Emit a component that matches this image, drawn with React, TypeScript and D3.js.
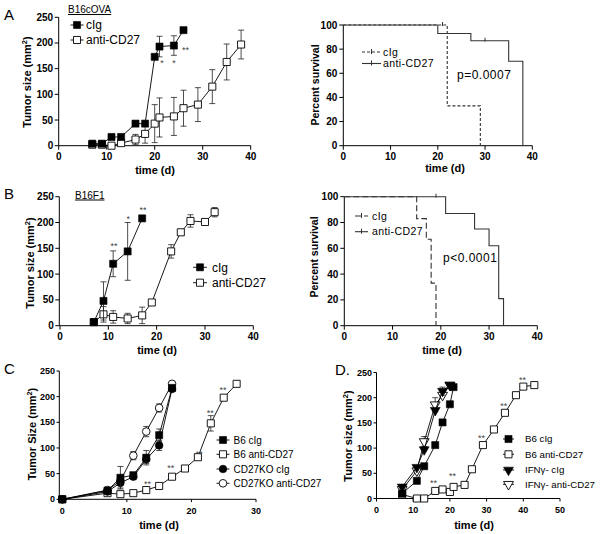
import React from "react";
import * as d3 from "d3";

const FONT = "'Liberation Sans', Arial, Helvetica, sans-serif";

// ---------- Panel A (B16cOVA) tumor growth ----------
const aDaysClg = [7, 9, 11, 13, 16, 18, 20, 21, 24, 26];
const aClg = [4, 4, 17, 17, 43, 43, 173, 193, 195, 225];
const aClgErr = [0, 0, 0, 0, 0, 0, 0, 20, 19, 0];
const aDaysAnti = [7, 9, 11, 13, 16, 18, 20, 21, 24, 26, 29, 32, 35, 38];
const aAnti = [2, 2, 0, 5, 12, 23, 43, 55, 57, 73, 80, 115, 163, 197];
const aAntiErr = [0, 0, 0, 3, 10, 18, 37, 38, 37, 35, 33, 33, 35, 28];
const aStarX = [21.5, 24, 26.4];
const aStarY = [164, 164, 190];
const aStarLabel = ["*", "*", "**"];

// ---------- Panel A survival ----------
const aSurvClgT = [0, 22, 29];
const aSurvClgV = [100, 33, 0];
const aSurvClgCensT = [21];
const aSurvClgCensV = [100];
const aSurvAntiT = [0, 20, 27, 35, 38];
const aSurvAntiV = [100, 93, 87, 70, 0];
const aSurvAntiCensT = [30];
const aSurvAntiCensV = [87];

// ---------- Panel B (B16F1) tumor growth ----------
const bDaysClg = [7, 9, 11, 14, 17];
const bClg = [7, 48, 120, 144, 208];
const bClgErr = [0, 37, 25, 56, 0];
const bDaysAnti = [7, 9, 11, 14, 17, 19, 23, 25, 27, 30, 32];
const bAnti = [7, 22, 17, 14, 20, 45, 144, 181, 203, 201, 220];
const bAntiErr = [0, 15, 12, 10, 16, 5, 13, 5, 12, 5, 9];
const bStarX = [11.2, 14.1, 17.2];
const bStarY = [158, 210, 229];
const bStarLabel = ["**", "*", "**"];

// ---------- Panel B survival ----------
const bSurvClgT = [0, 15, 17, 18, 19];
const bSurvClgV = [100, 83, 67, 33, 0];
const bSurvAntiT = [0, 21, 27, 30, 32, 33];
const bSurvAntiV = [100, 87, 75, 62, 21, 0];
const bSurvAntiCensT = [19];
const bSurvAntiCensV = [100];

// ---------- Panel C ----------
const cDaysClg = [0, 7, 9, 11, 13, 15, 17];
const cB6Clg = [0, 17, 42, 47, 81, 125, 217];
const cB6ClgErr = [0, 4, 22, 5, 14, 12, 5];
const cDaysB6Anti = [0, 7, 9, 11, 13, 15, 17, 19, 21, 23, 25, 27];
const cB6Anti = [0, 12, 10, 12, 18, 26, 44, 60, 82, 148, 198, 225];
const cB6AntiErr = [0, 2, 3, 3, 3, 3, 4, 4, 5, 15, 5, 0];
const cKoClg = [0, 15, 32, 44, 78, 105, 215];
const cKoClgErr = [0, 3, 10, 5, 8, 10, 5];
const cKoAnti = [0, 18, 36, 85, 132, 178, 225];
const cKoAntiErr = [0, 3, 8, 8, 10, 8, 3];
const cStarX = [13.2, 16.8, 21.2, 22.9, 24.9];
const cStarY = [34, 65, 92, 173, 217];

// ---------- Panel D ----------
const dDaysB6Clg = [7, 11, 13, 16, 18, 20, 21];
const dB6Clg = [10, 35, 64, 106, 151, 187, 221];
const dB6ClgErr = [0, 0, 0, 0, 0, 0, 0];
const dDaysB6Anti = [7, 11, 13, 16, 18, 20, 21, 24, 26, 29, 32, 35, 38, 40, 43];
const dB6Anti = [8, 0, 0, 15, 18, 13, 23, 27, 58, 106, 137, 170, 205, 222, 225];
const dB6AntiErr = [0, 0, 0, 0, 0, 0, 0, 0, 0, 0, 0, 0, 0, 0, 0];
const dDaysIfn = [7, 11, 13, 16, 18, 20];
const dIfnClg = [23, 62, 97, 175, 213, 225];
const dIfnClgErr = [0, 0, 0, 0, 8, 0];
const dIfnAnti = [18, 55, 113, 186, 205, 225];
const dIfnAntiErr = [0, 0, 10, 14, 0, 0];
const dStarX = [15.5, 20.7, 28.6, 34.7, 39.8];
const dStarY = [34, 48, 124, 188, 240];

type MarkerKind = "sq" | "osq" | "ci" | "oci" | "tri" | "otri";

interface Series {
  days: number[];
  vals: number[];
  err: number[];
  marker: MarkerKind;
}

interface LegendItem {
  label: string;
  marker: MarkerKind;
}

function symbolPath(kind: MarkerKind): string {
  if (kind === "sq" || kind === "osq") return d3.symbol().type(d3.symbolSquare).size(50)() || "";
  if (kind === "ci" || kind === "oci") return d3.symbol().type(d3.symbolCircle).size(46)() || "";
  return d3.symbol().type(d3.symbolTriangle).size(42)() || "";
}

function Marker({ kind, cx, cy }: { kind: MarkerKind; cx: number; cy: number }) {
  const filled = kind === "sq" || kind === "ci" || kind === "tri";
  const rot = kind === "tri" || kind === "otri" ? " rotate(180)" : "";
  return (
    <path
      d={symbolPath(kind)}
      transform={`translate(${cx},${cy})${rot}`}
      fill={filled ? "#000" : "#fff"}
      stroke="#000"
      strokeWidth={filled ? 0.6 : 0.9}
    />
  );
}

interface TumorCfg {
  xPx: [number, number];
  yPx: [number, number];
  xMax: number;
  axisX: number;
  tickFont: number;
  tickLen: number;
  series: Series[];
  legend: LegendItem[];
  legX: number;
  legYs: number[];
  legHalf: number;
  legTextX: number;
  legFont: number;
  starX: number[];
  starY: number[];
  starLabel: string[];
  yTitle: string;
  yTitleX: number;
  yTitleY: number;
  xTitleX: number;
  xTitleY: number;
}

function TumorPanel({ c }: { c: TumorCfg }) {
  const x = d3.scaleLinear().domain([0, c.xMax]).range(c.xPx);
  const y = d3.scaleLinear().domain([0, 250]).range(c.yPx);
  const xTicks = d3.range(0, c.xMax + 1, 10);
  const yTicks = d3.range(0, 251, 50);
  const line = d3
    .line<[number, number]>()
    .x((d) => x(d[0]))
    .y((d) => y(d[1]));
  return (
    <g fontFamily={FONT}>
      {/* axes */}
      <line x1={c.axisX} x2={c.axisX} y1={y(0)} y2={y(250)} stroke="#000" strokeWidth={1} />
      <line x1={c.axisX} x2={x(c.xMax)} y1={y(0)} y2={y(0)} stroke="#000" strokeWidth={1} />
      {yTicks.map((t) => (
        <g key={"y" + t}>
          <line x1={c.axisX - c.tickLen} x2={c.axisX} y1={y(t)} y2={y(t)} stroke="#000" />
          <text
            x={c.axisX - c.tickLen - 1.5}
            y={y(t) + c.tickFont * 0.35}
            fontSize={c.tickFont}
            fontWeight="bold"
            textAnchor="end"
          >
            {t}
          </text>
        </g>
      ))}
      {xTicks.map((t) => (
        <g key={"x" + t}>
          <line x1={x(t)} x2={x(t)} y1={y(0)} y2={y(0) + c.tickLen} stroke="#000" />
          <text x={x(t)} y={y(0) + 14.5} fontSize={c.tickFont} fontWeight="bold" textAnchor="middle">
            {t}
          </text>
        </g>
      ))}
      <text
        transform={`translate(${c.yTitleX},${c.yTitleY}) rotate(-90)`}
        fontSize={11}
        fontWeight="bold"
        textAnchor="middle"
      >
        {c.yTitle}
        <tspan dy={-4} fontSize={7.5}>
          2
        </tspan>
        <tspan dy={4}>)</tspan>
      </text>
      <text x={c.xTitleX} y={c.xTitleY} fontSize={11} fontWeight="bold" textAnchor="middle">
        time (d)
      </text>
      {/* series */}
      {c.series.map((s, si) => {
        const pts: [number, number][] = s.days.map((d, i) => [d, s.vals[i]]);
        return (
          <g key={"s" + si}>
            <path d={line(pts) || ""} fill="none" stroke="#000" strokeWidth={0.9} />
            {pts.map((p, i) =>
              s.err[i] > 0 ? (
                <g key={"e" + i} stroke="#222" strokeWidth={0.8}>
                  <line x1={x(p[0])} x2={x(p[0])} y1={y(p[1] - s.err[i])} y2={y(p[1] + s.err[i])} />
                  <line x1={x(p[0]) - 3} x2={x(p[0]) + 3} y1={y(p[1] + s.err[i])} y2={y(p[1] + s.err[i])} />
                  <line x1={x(p[0]) - 3} x2={x(p[0]) + 3} y1={y(p[1] - s.err[i])} y2={y(p[1] - s.err[i])} />
                </g>
              ) : null
            )}
            {pts.map((p, i) => (
              <Marker key={"m" + i} kind={s.marker} cx={x(p[0])} cy={y(p[1])} />
            ))}
          </g>
        );
      })}
      {c.starX.map((sx, i) => (
        <text key={"st" + i} x={x(sx)} y={y(c.starY[i]) + 5} fontSize={9} fill="#444" textAnchor="middle">
          {c.starLabel[i]}
        </text>
      ))}
      {/* legend */}
      {c.legend.map((l, i) => {
        const ly = c.legYs[i];
        return (
          <g key={"l" + i}>
            <line x1={c.legX - c.legHalf} x2={c.legX + c.legHalf} y1={ly} y2={ly} stroke="#000" strokeWidth={0.9} />
            <Marker kind={l.marker} cx={c.legX} cy={ly} />
            <text x={c.legTextX} y={ly + c.legFont * 0.36} fontSize={c.legFont}>
              {l.label}
            </text>
          </g>
        );
      })}
    </g>
  );
}

interface SurvSeries {
  t: number[];
  v: number[];
  censT: number[];
  censV: number[];
  dash: string;
  label: string;
}

interface SurvCfg {
  xPx: [number, number];
  yPx: [number, number];
  series: SurvSeries[];
  legX1: number;
  legX2: number;
  legY: number;
  legDy: number;
  legTextX: number;
  pText: string;
  pX: number;
  pY: number;
  yTitleX: number;
  yTitleY: number;
  xTitleX: number;
  xTitleY: number;
}

function SurvPanel({ c }: { c: SurvCfg }) {
  const x = d3.scaleLinear().domain([0, 40]).range(c.xPx);
  const y = d3.scaleLinear().domain([0, 100]).range(c.yPx);
  const step = d3
    .line<[number, number]>()
    .x((d) => x(d[0]))
    .y((d) => y(d[1]))
    .curve(d3.curveStepAfter);
  const xTicks = d3.range(0, 41, 10);
  const yTicks = d3.range(0, 101, 20);
  return (
    <g fontFamily={FONT}>
      <line x1={x(0)} x2={x(0)} y1={y(0)} y2={y(100)} stroke="#000" />
      <line x1={x(0)} x2={x(40)} y1={y(0)} y2={y(0)} stroke="#000" />
      {yTicks.map((t) => (
        <g key={"y" + t}>
          <line x1={x(0) - 4} x2={x(0)} y1={y(t)} y2={y(t)} stroke="#000" />
          <text x={x(0) - 6} y={y(t) + 3.5} fontSize={10} fontWeight="bold" textAnchor="end">
            {t}
          </text>
        </g>
      ))}
      {xTicks.map((t) => (
        <g key={"x" + t}>
          <line x1={x(t)} x2={x(t)} y1={y(0)} y2={y(0) + 4} stroke="#000" />
          <text x={x(t)} y={y(0) + 14.5} fontSize={10} fontWeight="bold" textAnchor="middle">
            {t}
          </text>
        </g>
      ))}
      <text
        transform={`translate(${c.yTitleX},${c.yTitleY}) rotate(-90)`}
        fontSize={10.5}
        fontWeight="bold"
        textAnchor="middle"
      >
        Percent survival
      </text>
      <text x={c.xTitleX} y={c.xTitleY} fontSize={11} fontWeight="bold" textAnchor="middle">
        time (d)
      </text>
      {c.series.map((s, si) => {
        const pts: [number, number][] = s.t.map((t, i) => [t, s.v[i]]);
        return (
          <g key={"s" + si}>
            <path d={step(pts) || ""} fill="none" stroke="#333" strokeWidth={1.1} strokeDasharray={s.dash} />
            {s.censT.map((ct, i) => (
              <line
                key={"c" + i}
                x1={x(ct)}
                x2={x(ct)}
                y1={y(s.censV[i]) - 3}
                y2={y(s.censV[i]) + 1}
                stroke="#333"
                strokeWidth={1}
              />
            ))}
          </g>
        );
      })}
      {c.series.map((s, i) => {
        const ly = c.legY + i * c.legDy;
        const mid = (c.legX1 + c.legX2) / 2;
        return (
          <g key={"l" + i}>
            <line x1={c.legX1} x2={c.legX2} y1={ly} y2={ly} stroke="#333" strokeWidth={1.1} strokeDasharray={s.dash} />
            <line x1={mid} x2={mid} y1={ly - 3} y2={ly + 2} stroke="#333" />
            <text x={c.legTextX} y={ly + 3.7} fontSize={10.5} letterSpacing={0.4}>
              {s.label}
            </text>
          </g>
        );
      })}
      <text x={c.pX} y={c.pY} fontSize={12} letterSpacing={0.5}>
        {c.pText}
      </text>
    </g>
  );
}

const panelA: TumorCfg = {
  xPx: [58.7, 250.7],
  yPx: [145.7, 17.3],
  xMax: 40,
  axisX: 58.7,
  tickFont: 10,
  tickLen: 4,
  series: [
    { days: aDaysAnti, vals: aAnti, err: aAntiErr, marker: "osq" },
    { days: aDaysClg, vals: aClg, err: aClgErr, marker: "sq" },
  ],
  legend: [
    { label: "cIg", marker: "sq" },
    { label: "anti-CD27", marker: "osq" },
  ],
  legX: 77,
  legYs: [25, 40],
  legHalf: 6.5,
  legTextX: 86,
  legFont: 12,
  starX: aStarX,
  starY: aStarY,
  starLabel: aStarLabel,
  yTitle: "Tumor size (mm",
  yTitleX: 31,
  yTitleY: 82,
  xTitleX: 155,
  xTitleY: 174,
};

const panelB: TumorCfg = {
  xPx: [60, 253.3],
  yPx: [325.7, 196.7],
  xMax: 40,
  axisX: 59.3,
  tickFont: 10,
  tickLen: 4,
  series: [
    { days: bDaysAnti, vals: bAnti, err: bAntiErr, marker: "osq" },
    { days: bDaysClg, vals: bClg, err: bClgErr, marker: "sq" },
  ],
  legend: [
    { label: "cIg", marker: "sq" },
    { label: "anti-CD27", marker: "osq" },
  ],
  legX: 200,
  legYs: [267.3, 282.7],
  legHalf: 7,
  legTextX: 212,
  legFont: 12,
  starX: bStarX,
  starY: bStarY,
  starLabel: bStarLabel,
  yTitle: "Tumor size (mm",
  yTitleX: 34,
  yTitleY: 263,
  xTitleX: 157,
  xTitleY: 354,
};

const panelC: TumorCfg = {
  xPx: [62.3, 256],
  yPx: [499.3, 371],
  xMax: 30,
  axisX: 59.3,
  tickFont: 9,
  tickLen: 2.8,
  series: [
    { days: cDaysClg, vals: cKoAnti, err: cKoAntiErr, marker: "oci" },
    { days: cDaysB6Anti, vals: cB6Anti, err: cB6AntiErr, marker: "osq" },
    { days: cDaysClg, vals: cKoClg, err: cKoClgErr, marker: "ci" },
    { days: cDaysClg, vals: cB6Clg, err: cB6ClgErr, marker: "sq" },
  ],
  legend: [
    { label: "B6 cIg", marker: "sq" },
    { label: "B6 anti-CD27", marker: "osq" },
    { label: "CD27KO cIg", marker: "ci" },
    { label: "CD27KO anti-CD27", marker: "oci" },
  ],
  legX: 223,
  legYs: [440, 454.3, 469, 483.3],
  legHalf: 6.5,
  legTextX: 233.5,
  legFont: 10,
  starX: cStarX,
  starY: cStarY,
  starLabel: cStarX.map(() => "**"),
  yTitle: "Tumor Size (mm",
  yTitleX: 35.7,
  yTitleY: 434,
  xTitleX: 159,
  xTitleY: 529,
};

const panelD: TumorCfg = {
  xPx: [376.5, 560],
  yPx: [498.5, 372.5],
  xMax: 50,
  axisX: 376.5,
  tickFont: 9,
  tickLen: 3,
  series: [
    { days: dDaysB6Anti, vals: dB6Anti, err: dB6AntiErr, marker: "osq" },
    { days: dDaysIfn, vals: dIfnAnti, err: dIfnAntiErr, marker: "otri" },
    { days: dDaysIfn, vals: dIfnClg, err: dIfnClgErr, marker: "tri" },
    { days: dDaysB6Clg, vals: dB6Clg, err: dB6ClgErr, marker: "sq" },
  ],
  legend: [
    { label: "B6 cIg", marker: "sq" },
    { label: "B6 anti-CD27", marker: "osq" },
    { label: "IFNγ- cIg", marker: "tri" },
    { label: "IFNγ- anti-CD27", marker: "otri" },
  ],
  legX: 508.5,
  legYs: [439, 454.3, 470, 484.3],
  legHalf: 5.5,
  legTextX: 525,
  legFont: 9.7,
  starX: dStarX,
  starY: dStarY,
  starLabel: dStarX.map(() => "**"),
  yTitle: "Tumor size (mm",
  yTitleX: 352,
  yTitleY: 436,
  xTitleX: 474,
  xTitleY: 529,
};

const survA: SurvCfg = {
  xPx: [343.3, 532.3],
  yPx: [145.7, 25],
  series: [
    { t: aSurvClgT, v: aSurvClgV, censT: aSurvClgCensT, censV: aSurvClgCensV, dash: "3,2", label: "cIg" },
    { t: aSurvAntiT, v: aSurvAntiV, censT: aSurvAntiCensT, censV: aSurvAntiCensV, dash: "", label: "anti-CD27" },
  ],
  legX1: 362,
  legX2: 381,
  legY: 52,
  legDy: 11.5,
  legTextX: 383,
  pText: "p=0.0007",
  pX: 457,
  pY: 78.5,
  yTitleX: 319,
  yTitleY: 85,
  xTitleX: 445,
  xTitleY: 172,
};

const survB: SurvCfg = {
  xPx: [344.3, 537.3],
  yPx: [325.7, 196.7],
  series: [
    { t: bSurvClgT, v: bSurvClgV, censT: [], censV: [], dash: "6,3", label: "cIg" },
    { t: bSurvAntiT, v: bSurvAntiV, censT: bSurvAntiCensT, censV: bSurvAntiCensV, dash: "", label: "anti-CD27" },
  ],
  legX1: 355,
  legX2: 368,
  legY: 216,
  legDy: 15.7,
  legTextX: 372,
  pText: "p<0.0001",
  pX: 443,
  pY: 261.5,
  yTitleX: 318,
  yTitleY: 257,
  xTitleX: 442,
  xTitleY: 354,
};

export default function App() {
  return (
    <svg
      width={600}
      height={534}
      viewBox="0 0 600 534"
      style={{ position: "absolute", left: 0, top: 0, background: "#fff" }}
      fontFamily={FONT}
    >
      <rect width={600} height={534} fill="#fff" />
      <text x={4} y={19.5} fontSize={15}>A</text>
      <text x={4} y={198.5} fontSize={15}>B</text>
      <text x={4} y={373.5} fontSize={15}>C</text>
      <text x={335} y={374.5} fontSize={15}>D.</text>
      <text x={68} y={13} fontSize={10} textDecoration="underline">B16cOVA</text>
      <text x={75} y={198.5} fontSize={10} textDecoration="underline">B16F1</text>
      <TumorPanel c={panelA} />
      <SurvPanel c={survA} />
      <TumorPanel c={panelB} />
      <SurvPanel c={survB} />
      <TumorPanel c={panelC} />
      <TumorPanel c={panelD} />
    </svg>
  );
}
